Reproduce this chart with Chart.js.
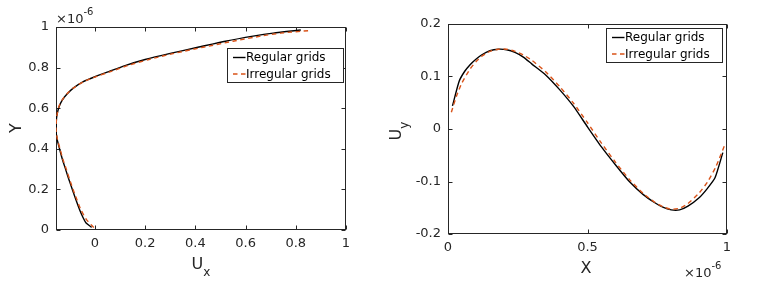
<!DOCTYPE html>
<html>
<head>
<meta charset="utf-8">
<script src="https://cdn.jsdelivr.net/npm/chart.js@4.4.0/dist/chart.umd.min.js"></script>
<style>
  html, body { margin: 0; padding: 0; background: #fff; }
  #wrap { position: relative; width: 770px; height: 284px; }
  .box { position: absolute; top: 0; width: 385px; height: 284px; }
</style>
</head>
<body>
<div id="wrap">
  <div class="box" style="left:0"><canvas id="left" width="385" height="284"></canvas></div>
  <div class="box" style="left:385px"><canvas id="right" width="385" height="284"></canvas></div>
</div>
<script>
// series names
const seriesNames = ['Regular grids', 'Irregular grids'];

// left panel: U_x along the vertical line (Y in units of 1e-6)
const leftYReg  = [0.013, 0.036, 0.06, 0.1, 0.15, 0.2, 0.25, 0.3, 0.35, 0.4, 0.45, 0.5, 0.55, 0.58, 0.61, 0.64, 0.67, 0.7, 0.73, 0.755, 0.78, 0.81, 0.84, 0.87, 0.9, 0.93, 0.955, 0.97, 0.985];
const leftUxReg = [-0.013, -0.036, -0.047, -0.061, -0.076, -0.09, -0.104, -0.117, -0.13, -0.141, -0.151, -0.155, -0.153, -0.149, -0.142, -0.13, -0.111, -0.085, -0.048, 0, 0.055, 0.12, 0.2, 0.3, 0.41, 0.52, 0.63, 0.71, 0.82];
const leftYIrr  = [0.012, 0.05, 0.1, 0.15, 0.2, 0.25, 0.3, 0.35, 0.4, 0.45, 0.5, 0.55, 0.58, 0.61, 0.64, 0.67, 0.7, 0.73, 0.75, 0.78, 0.81, 0.84, 0.87, 0.9, 0.93, 0.955, 0.97, 0.983];
const leftUxIrr = [-0.004, -0.033, -0.056, -0.072, -0.087, -0.101, -0.114, -0.128, -0.139, -0.15, -0.155, -0.153, -0.149, -0.143, -0.131, -0.112, -0.085, -0.046, -0.008, 0.062, 0.13, 0.215, 0.315, 0.43, 0.55, 0.66, 0.74, 0.86];

// right panel: U_y along the horizontal line (X in units of 1e-6)
const rightXReg  = [0.016, 0.04, 0.06, 0.08, 0.1, 0.12, 0.15, 0.18, 0.21, 0.24, 0.27, 0.3, 0.35, 0.4, 0.45, 0.5, 0.55, 0.6, 0.65, 0.7, 0.74, 0.77, 0.8, 0.83, 0.86, 0.9, 0.93, 0.957, 0.985];
const rightUyReg = [0.044, 0.091, 0.11, 0.123, 0.133, 0.141, 0.149, 0.152, 0.151, 0.146, 0.137, 0.124, 0.103, 0.075, 0.043, 0.004, -0.034, -0.068, -0.1, -0.125, -0.14, -0.149, -0.154, -0.154, -0.147, -0.131, -0.113, -0.093, -0.045];
const rightXIrr  = [0.012, 0.03, 0.05, 0.08, 0.1, 0.12, 0.15, 0.18, 0.21, 0.24, 0.27, 0.3, 0.35, 0.4, 0.45, 0.5, 0.55, 0.6, 0.65, 0.7, 0.74, 0.77, 0.8, 0.83, 0.86, 0.9, 0.93, 0.96, 0.99];
const rightUyIrr = [0.032, 0.062, 0.088, 0.115, 0.128, 0.138, 0.148, 0.152, 0.152, 0.148, 0.141, 0.131, 0.109, 0.081, 0.049, 0.012, -0.027, -0.063, -0.096, -0.123, -0.139, -0.148, -0.153, -0.151, -0.142, -0.122, -0.101, -0.072, -0.033];

// ticks
const leftXTicks  = [0, 0.2, 0.4, 0.6, 0.8, 1];
const leftYTicks  = [0, 0.2, 0.4, 0.6, 0.8, 1];
const rightXTicks = [0, 0.5, 1];
const rightYTicks = [-0.2, -0.1, 0, 0.1, 0.2];

const FONT = '"DejaVu Sans", "Liberation Sans", Arial, sans-serif';
const INK = '#262626';

function pts(xs, ys) {
  return xs.map((x, i) => ({ x: x, y: ys[i] }));
}

function drawTitle(ctx, t) {
  ctx.save();
  ctx.translate(t.x, t.y);
  if (t.rotate) ctx.rotate(-Math.PI / 2);
  ctx.fillStyle = INK;
  ctx.textBaseline = 'alphabetic';
  ctx.textAlign = 'left';
  ctx.font = '16px ' + FONT;
  const w = ctx.measureText(t.main).width;
  ctx.font = '12px ' + FONT;
  const ws = t.sub ? ctx.measureText(t.sub).width : 0;
  const x0 = -(w + ws) / 2;
  ctx.font = '16px ' + FONT;
  ctx.fillText(t.main, x0, 0);
  if (t.sub) {
    ctx.font = '12px ' + FONT;
    ctx.fillText(t.sub, x0 + w, 7);
  }
  ctx.restore();
}

function drawExponent(ctx, e) {
  ctx.save();
  ctx.fillStyle = INK;
  ctx.textAlign = 'left';
  ctx.textBaseline = 'alphabetic';
  ctx.font = '13px ' + FONT;
  ctx.fillText('\u00d710', e.x, e.y);
  const w = ctx.measureText('\u00d710').width;
  ctx.font = '10px ' + FONT;
  ctx.fillText('-6', e.x + w, e.y - 7.5);
  ctx.restore();
}

function drawLegend(chart, lg) {
  const ctx = chart.ctx, a = chart.chartArea;
  const x = Math.round(a.right - lg.right - lg.w) + 0.5;
  const y = Math.round(a.top + lg.top) + 0.5;
  ctx.save();
  ctx.fillStyle = '#fff';
  ctx.fillRect(x, y, lg.w, lg.h);
  ctx.strokeStyle = INK;
  ctx.lineWidth = 1;
  ctx.strokeRect(x, y, lg.w, lg.h);
  chart.data.datasets.forEach((ds, i) => {
    const cy = y + 9 + i * 16.5;
    ctx.strokeStyle = ds.borderColor;
    ctx.lineWidth = ds.borderWidth;
    ctx.setLineDash(ds.borderDash || []);
    ctx.beginPath();
    ctx.moveTo(x + 5.5, cy);
    ctx.lineTo(x + 18, cy);
    ctx.stroke();
    ctx.setLineDash([]);
    ctx.fillStyle = '#000';
    ctx.font = '12px ' + FONT;
    ctx.textBaseline = 'middle';
    ctx.textAlign = 'left';
    ctx.fillText(ds.label, x + 18.5, cy + 0.5);
  });
  ctx.restore();
}

// box, inward ticks, titles, exponent and legend in the MATLAB style
const matlabAxes = {
  id: 'matlabAxes',
  beforeDatasetsDraw(chart, args, opts) {
    const { ctx, chartArea: a, scales } = chart;
    const L = Math.round(a.left) + 0.5, R = Math.round(a.right) - 0.5;
    const T = Math.round(a.top) + 0.5, B = Math.round(a.bottom) - 0.5;
    ctx.save();
    ctx.strokeStyle = INK;
    ctx.lineWidth = 1;
    ctx.strokeRect(L, T, R - L, B - T);
    ctx.beginPath();
    scales.x.ticks.forEach(t => {
      const px = Math.round(scales.x.getPixelForValue(t.value)) + 0.5;
      ctx.moveTo(px, B); ctx.lineTo(px, B - 4);
      ctx.moveTo(px, T); ctx.lineTo(px, T + 4);
    });
    scales.y.ticks.forEach(t => {
      const py = Math.round(scales.y.getPixelForValue(t.value)) + 0.5;
      ctx.moveTo(L, py); ctx.lineTo(L + 4, py);
      ctx.moveTo(R, py); ctx.lineTo(R - 4, py);
    });
    ctx.stroke();
    ctx.restore();
  },
  afterDraw(chart, args, opts) {
    const ctx = chart.ctx;
    drawTitle(ctx, opts.xTitle);
    drawTitle(ctx, opts.yTitle);
    drawExponent(ctx, opts.exponent);
    drawLegend(chart, opts.legend);
  }
};

function makeChart(id, c) {
  const tickFont = { family: FONT, size: 13 };
  return new Chart(document.getElementById(id), {
    type: 'scatter',
    data: {
      datasets: [
        { label: seriesNames[0], data: c.reg, showLine: true, borderColor: '#000000',
          borderWidth: 1.4, pointRadius: 0, tension: 0.2, order: 2 },
        { label: seriesNames[1], data: c.irr, showLine: true, borderColor: '#D95319',
          borderWidth: 1.4, borderDash: [4.5, 3.5], pointRadius: 0, tension: 0.2, order: 1 }
      ]
    },
    options: {
      responsive: false,
      animation: false,
      events: [],
      layout: { padding: c.padding },
      plugins: {
        legend: { display: false },
        tooltip: { enabled: false },
        matlabAxes: c.extra
      },
      scales: {
        x: {
          type: 'linear', min: c.xMin, max: c.xMax,
          afterBuildTicks: s => { s.ticks = c.xTicks.map(v => ({ value: v })); },
          afterFit: s => { s.height = c.xHeight; },
          ticks: { color: INK, font: tickFont, padding: c.xPad, maxRotation: 0, autoSkip: false,
                   callback: v => String(v) },
          grid: { display: false, drawTicks: false },
          border: { display: false }
        },
        y: {
          type: 'linear', min: c.yMin, max: c.yMax,
          afterBuildTicks: s => { s.ticks = c.yTicks.map(v => ({ value: v })); },
          afterFit: s => { s.width = c.yWidth; },
          ticks: { color: INK, font: tickFont, padding: 7, autoSkip: false,
                   callback: v => String(v) },
          grid: { display: false, drawTicks: false },
          border: { display: false }
        }
      }
    },
    plugins: [matlabAxes]
  });
}

makeChart('left', {
  reg: pts(leftUxReg, leftYReg),
  irr: pts(leftUxIrr, leftYIrr),
  xMin: -0.155, xMax: 1, yMin: 0, yMax: 1,
  xTicks: leftXTicks, yTicks: leftYTicks,
  padding: { left: 0, right: 39, top: 27, bottom: 0 },
  yWidth: 56, xHeight: 54, xPad: 6,
  extra: {
    xTitle: { main: 'U', sub: 'x', x: 201, y: 269 },
    yTitle: { main: 'Y', x: 21, y: 128, rotate: true },
    exponent: { x: 56, y: 22.5 },
    legend: { right: 3, top: 21, w: 116, h: 34 }
  }
});

makeChart('right', {
  reg: pts(rightXReg, rightUyReg),
  irr: pts(rightXIrr, rightUyIrr),
  xMin: 0, xMax: 1, yMin: -0.2, yMax: 0.2,
  xTicks: rightXTicks, yTicks: rightYTicks,
  padding: { left: 0, right: 43, top: 24, bottom: 0 },
  yWidth: 63, xHeight: 50, xPad: 6,
  extra: {
    xTitle: { main: 'X', x: 201, y: 273 },
    yTitle: { main: 'U', sub: 'y', x: 15.5, y: 131, rotate: true },
    exponent: { x: 299, y: 276.5 },
    legend: { right: 5, top: 4, w: 116, h: 34 }
  }
});
</script>
</body>
</html>
